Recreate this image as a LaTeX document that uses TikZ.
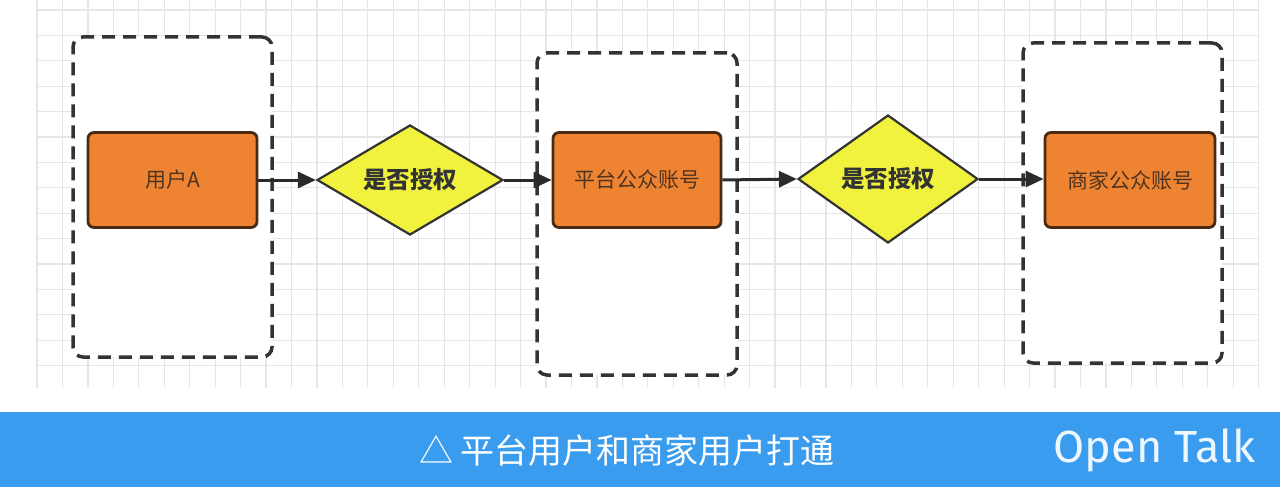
\documentclass[tikz,border=0pt]{standalone}
\usepackage{fontspec}
\usetikzlibrary{shapes.geometric,arrows.meta}
\newfontfamily\cjk{Noto Sans CJK SC}
\newfontfamily\logofont{Fira Sans}
\definecolor{gridc}{HTML}{E6E6E6}
\definecolor{dashc}{HTML}{333333}
\definecolor{orangefill}{HTML}{EE8432}
\definecolor{orangeedge}{HTML}{4A2A12}
\definecolor{orangetext}{HTML}{4E3420}
\definecolor{yellowfill}{HTML}{F0F23E}
\definecolor{arrowc}{HTML}{2B2B2B}
\definecolor{bannerc}{HTML}{3A9CEF}
\tikzset{
  groupbox/.style={draw=dashc, line width=3.5pt, dash pattern=on 13pt off 8pt, rounded corners=10pt, fill=white, inner sep=0pt},
  procbox/.style={draw=orangeedge, line width=2.8pt, fill=orangefill, rounded corners=6pt, minimum width=168pt, minimum height=95pt, inner sep=0pt, font=\cjk\fontsize{21}{25}\selectfont, text=orangetext},
  decision/.style={diamond, draw=dashc, line width=2.2pt, fill=yellowfill, inner sep=0pt, aspect=1.6, font=\cjk\bfseries\fontsize{23.5}{27}\selectfont, text=dashc},
  flow/.style={draw=arrowc, line width=3pt, -{Triangle[length=18pt,width=16pt]}},
}
\begin{document}
\begin{tikzpicture}[x=1pt,y=-1pt]
\useasboundingbox (0,0) rectangle (1280,487);
\fill[white] (0,0) rectangle (1280,487);
% grid
\foreach \k in {0,...,48} {
  \draw[gridc, line width=1.2pt] ({37+25.45*\k},0) -- ({37+25.45*\k},388);
}
\foreach \k in {0,...,14} {
  \draw[gridc, line width=1.2pt] (37,{10+25.4*\k}) -- (1258,{10+25.4*\k});
}
% group containers
\node[groupbox, minimum width=199pt, minimum height=320pt] (g1) at (172.5,197) {};
\node[groupbox, minimum width=200pt, minimum height=322pt] (g2) at (637,214) {};
\node[groupbox, minimum width=199pt, minimum height=320pt] (g3) at (1122.5,203) {};
% process and decision nodes
\node[procbox, minimum width=169pt] (userA) at (172.5,180) {用户A};
\node[decision, minimum width=186pt, minimum height=110pt] (auth1) at (410,180) {是否授权};
\node[procbox] (platform) at (637,180) {平台公众账号};
\node[decision, minimum width=180pt, minimum height=128pt] (auth2) at (888,179) {是否授权};
\node[procbox, minimum width=170pt] (merchant) at (1130,180) {商家公众账号};
% connectors
\draw[flow] (userA.east) -- (auth1.west);
\draw[flow] (auth1.east) -- (platform.west);
\draw[flow] (platform.east) -- (auth2.west);
\draw[flow] (auth2.east) -- (merchant.west |- auth2.east);
% banner
\fill[bannerc] (0,412) rectangle (1280,487);
\node[text=white, font=\cjk\fontsize{34}{38}\selectfont, inner sep=0pt] (caption) at (627,451) {△ 平台用户和商家用户打通};
\node[text=white!92!bannerc, font=\logofont\fontsize{45}{50}\selectfont, inner sep=0pt, anchor=east] (logo) at (1256,450) {Open Talk};
\end{tikzpicture}
\end{document}
